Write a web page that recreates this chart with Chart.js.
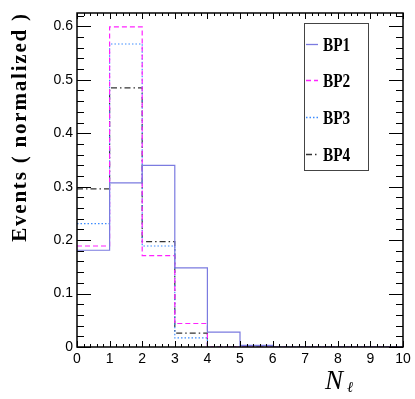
<!DOCTYPE html>
<html>
<head>
<meta charset="utf-8">
<script src="https://cdn.jsdelivr.net/npm/chart.js@4/dist/chart.umd.min.js"></script>
<style>
html,body{margin:0;padding:0;background:#fff;}
#wrap{width:415px;height:399px;position:relative;}
</style>
</head>
<body>
<div id="wrap"><canvas id="c" width="415" height="399"></canvas></div>
<script>
// Bin edges (N_l) and normalized bin contents per benchmark point
const binEdges = [0,1,2,3,4,5,6,7,8,9,10];
const seriesNames = ["BP1","BP2","BP3","BP4"];
const bp1 = [0.181,0.307,0.340,0.148,0.028,0.003,0,0,0,0];
const bp2 = [0.189,0.599,0.171,0.044,0,0,0,0,0,0];
const bp3 = [0.231,0.567,0.189,0.017,0,0,0,0,0,0];
const bp4 = [0.296,0.485,0.197,0.026,0,0,0,0,0,0];
const xTicks = [0,1,2,3,4,5,6,7,8,9,10];
const yTicks = [0,0.1,0.2,0.3,0.4,0.5,0.6];

const styles = [
  {color:'#7b7be0', dash:[]},
  {color:'#ff22ff', dash:[5,3]},
  {color:'#3d8cff', dash:[1.5,2]},
  {color:'#333333', dash:[6,3,1.5,3]}
];

function stepData(vals){
  const pts = vals.map((v,i)=>({x:binEdges[i], y:v}));
  pts.push({x:binEdges[binEdges.length-1], y:vals[vals.length-1]});
  return pts;
}
const allSeries = [bp1,bp2,bp3,bp4];

const framePlugin = {
  id:'frame',
  afterDatasetsDraw(chart){
    const ctx = chart.ctx;
    const a = chart.chartArea;
    const xs = chart.scales.x, ys = chart.scales.y;
    ctx.save();
    ctx.strokeStyle = '#000';
    ctx.lineWidth = 1;
    ctx.setLineDash([]);
    // x ticks bottom & top
    for(let i=0;i<=50;i++){
      const v = i*0.2;
      const px = Math.round(xs.getPixelForValue(v))+0.5;
      const major = i%5===0;
      const len = major?6:3;
      ctx.beginPath();
      ctx.moveTo(px,a.bottom); ctx.lineTo(px,a.bottom-len);
      ctx.moveTo(px,a.top); ctx.lineTo(px,a.top+len);
      ctx.stroke();
    }
    // y ticks left & right
    for(let i=0;i<=31;i++){
      const v = i*0.02;
      if(v>0.625) break;
      const py = Math.round(ys.getPixelForValue(v))+0.5;
      const major = i%5===0;
      const len = major?14:7;
      ctx.beginPath();
      ctx.moveTo(a.left,py); ctx.lineTo(a.left+len,py);
      ctx.moveTo(a.right,py); ctx.lineTo(a.right-len,py);
      ctx.stroke();
    }
    // frame
    ctx.lineWidth = 1.5;
    ctx.strokeRect(a.left, a.top, a.right-a.left, a.bottom-a.top);

    // legend
    ctx.lineWidth = 1;
    ctx.strokeStyle = '#444';
    ctx.strokeRect(304.5, 23.5, 64, 147);
    const ly = [44,80,117,154];
    for(let i=0;i<4;i++){
      ctx.strokeStyle = styles[i].color;
      ctx.setLineDash(styles[i].dash);
      ctx.lineWidth = 1.3;
      ctx.beginPath();
      ctx.moveTo(306, ly[i]+0.5); ctx.lineTo(318, ly[i]+0.5);
      ctx.stroke();
      ctx.setLineDash([]);
      ctx.save();
      ctx.translate(323, ly[i]+2);
      ctx.scale(0.85,1);
      ctx.font = 'bold 18px "Liberation Serif"';
      ctx.textBaseline = 'middle';
      ctx.textAlign = 'left';
      ctx.fillStyle = '#000';
      ctx.fillText(seriesNames[i], 0, 0);
      ctx.restore();
    }

    // y title
    ctx.save();
    ctx.translate(21, 127);
    ctx.rotate(-Math.PI/2);
    ctx.font = 'bold 21px "Liberation Serif"';
    if ('letterSpacing' in ctx) ctx.letterSpacing = '1.8px';
    ctx.textAlign = 'center';
    ctx.textBaseline = 'middle';
    ctx.fillStyle = '#000';
    ctx.fillText('Events ( normalized )', 0, 0);
    ctx.restore();

    // x title N_l
    ctx.fillStyle = '#000';
    ctx.textAlign = 'left';
    ctx.textBaseline = 'alphabetic';
    ctx.font = 'italic 27px "Liberation Serif"';
    ctx.fillText('N', 325, 389);
    ctx.font = 'italic 15px "DejaVu Serif"';
    ctx.fillText('ℓ', 347, 392);
    ctx.restore();
  }
};

new Chart(document.getElementById('c'), {
  type:'line',
  data:{
    datasets: allSeries.map((s,i)=>({
      label: seriesNames[i],
      data: stepData(s),
      stepped:'before',
      borderColor: styles[i].color,
      borderDash: styles[i].dash,
      borderWidth: 1.2,
      pointRadius: 0,
      fill:false,
      tension:0
    }))
  },
  options:{
    responsive:false,
    animation:false,
    events:[],
    layout:{padding:{left:0,right:12,top:13,bottom:0}},
    plugins:{legend:{display:false}, tooltip:{enabled:false}},
    scales:{
      x:{
        type:'linear', min:0, max:10,
        afterBuildTicks(scale){ scale.ticks = xTicks.map(v=>({value:v})); },
        afterFit(scale){ scale.height = 52; },
        grid:{display:false, drawTicks:false},
        border:{display:false},
        ticks:{color:'#000', padding:4, font:{family:'"Liberation Sans"', size:14}, maxRotation:0, autoSkip:false,
          callback:(v)=>String(v)}
      },
      y:{
        type:'linear', min:0, max:0.625,
        afterBuildTicks(scale){ scale.ticks = yTicks.map(v=>({value:v})); },
        afterFit(scale){ scale.width = 77; },
        grid:{display:false, drawTicks:false},
        border:{display:false},
        ticks:{color:'#000', padding:4, font:{family:'"Liberation Sans"', size:14}, autoSkip:false,
          callback:(v)=> v===0 ? '0' : v.toFixed(1)}
      }
    }
  },
  plugins:[framePlugin]
});
</script>
</body>
</html>
